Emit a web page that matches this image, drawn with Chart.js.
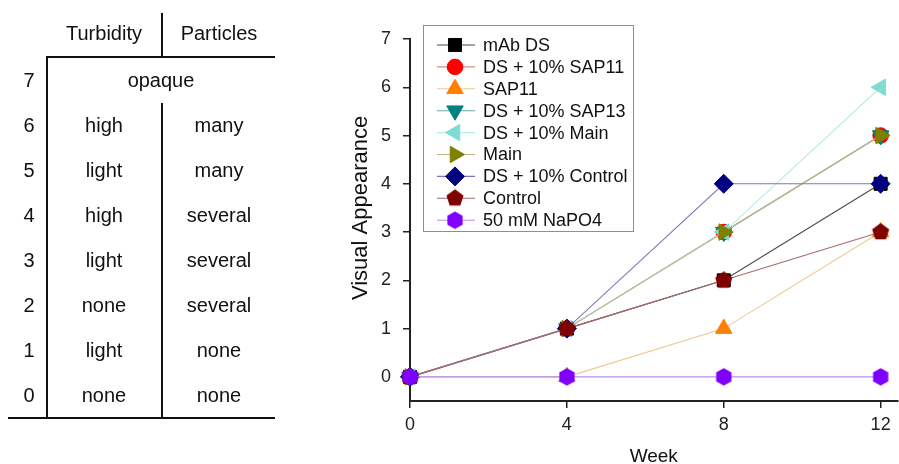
<!DOCTYPE html>
<html>
<head>
<meta charset="utf-8">
<script src="https://cdn.jsdelivr.net/npm/chart.js@4/dist/chart.umd.min.js"></script>
<style>
  html, body { margin: 0; padding: 0; background: #fff; overflow: hidden; }
  #wrap { position: relative; width: 899px; height: 464px; overflow: hidden; font-family: "Liberation Sans", Arial, sans-serif; color: #111; }
  #chart { position: absolute; left: 0; top: 0; }
  #scoreTable { position: absolute; left: 0; top: 0; width: 300px; height: 464px; }
  .cell { position: absolute; font-size: 20px; transform: translate(-50%, -50%); white-space: nowrap; line-height: 1; }
  .rule { position: absolute; background: #111; }
</style>
</head>
<body>
<div id="wrap">
  <!-- the canvas runs a little past the right edge so the x axis reaches the border -->
  <canvas id="chart" width="908" height="464"></canvas>
  <div id="scoreTable"></div>
</div>
<script>
// Scoring key (a null particle entry means the turbidity text spans both columns)
const scoreLevels = [7, 6, 5, 4, 3, 2, 1, 0];
const turbidityLevels = ['opaque', 'high', 'light', 'high', 'light', 'none', 'light', 'none'];
const particleLevels  = [null, 'many', 'many', 'several', 'several', 'several', 'none', 'none'];
const tableHeaders = ['Turbidity', 'Particles'];

// Stability study
const weeks = [0, 4, 8, 12];
const weekTicks = [0, 4, 8, 12];
const scoreTicks = [0, 1, 2, 3, 4, 5, 6, 7];
const seriesNames = ['mAb DS', 'DS + 10% SAP11', 'SAP11', 'DS + 10% SAP13', 'DS + 10% Main',
                     'Main', 'DS + 10% Control', 'Control', '50 mM NaPO4'];
const mAbDS        = [0, 1, 2, 4];
const dsSAP11      = [0, 1, 3, 5];
const sap11        = [0, 0, 1, 3];
const dsSAP13      = [0, 1, 3, 5];
const dsMain       = [0, 1, 3, 6];
const mainOnly     = [0, 1, 3, 5];
const dsControl    = [0, 1, 4, 4];
const controlOnly  = [0, 1, 2, 3];
const napo4Buffer  = [0, 0, 0, 0];

const FONT = '"Liberation Sans", Arial, sans-serif';

// ---- key table (HTML) ----
(function buildTable() {
  const host = document.getElementById('scoreTable');
  const add = (html) => host.insertAdjacentHTML('beforeend', html);
  const cell = (x, y, text) => add(`<div class="cell" style="left:${x}px;top:${y}px">${text}</div>`);
  const rule = (x, y, w, h) => add(`<div class="rule" style="left:${x}px;top:${y}px;width:${w}px;height:${h}px"></div>`);

  cell(104, 33, tableHeaders[0]);
  cell(219, 33, tableHeaders[1]);
  scoreLevels.forEach((s, i) => {
    const y = 80 + i * 45;
    cell(29, y, String(s));
    if (particleLevels[i] === null) {
      cell(161, y, turbidityLevels[i]);
    } else {
      cell(104, y, turbidityLevels[i]);
      cell(219, y, particleLevels[i]);
    }
  });
  rule(161, 13, 2, 45);   // header divider
  rule(46, 56, 229, 2);   // header underline
  rule(46, 56, 2, 363);   // score column divider
  rule(161, 103, 2, 316); // turbidity / particles divider
  rule(8, 417, 267, 2);   // bottom rule
})();

// ---- marker shapes not built into Chart.js ----
function polygonMarker(sides, r, color) {
  const size = Math.ceil(r * 2 + 2);
  const c = document.createElement('canvas');
  c.width = size; c.height = size;
  const g = c.getContext('2d');
  g.fillStyle = color;
  g.beginPath();
  for (let k = 0; k < sides; k++) {
    const a = -Math.PI / 2 + k * 2 * Math.PI / sides;
    const px = size / 2 + r * Math.cos(a), py = size / 2 + r * Math.sin(a);
    k ? g.lineTo(px, py) : g.moveTo(px, py);
  }
  g.closePath();
  g.fill();
  return c;
}

const styles = [
  { mark: '#000000', line: '#4a4a4a', shape: 'rect',     rot: 0,   r: 9.2 },
  { mark: '#ff0000', line: '#d98c8c', shape: 'circle',   rot: 0,   r: 7.8 },
  { mark: '#ff8000', line: '#f0c890', shape: 'triangle', rot: 0,   r: 9.5 },
  { mark: '#008080', line: '#6aa8a8', shape: 'triangle', rot: 180, r: 9.5 },
  { mark: '#80dcd2', line: '#b8ece6', shape: 'triangle', rot: 270, r: 9.5 },
  { mark: '#808000', line: '#c6b68c', shape: 'triangle', rot: 90,  r: 9.5 },
  { mark: '#000080', line: '#7878b8', shape: 'rectRot',  rot: 0,   r: 9.5 },
  { mark: '#800000', line: '#a86a6a', shape: polygonMarker(5, 9, '#800000'), rot: 0, r: 9 },
  { mark: '#8000ff', line: '#b48cf0', shape: polygonMarker(6, 8.8, '#8000ff'), rot: 0, r: 9 }
];
const seriesValues = [mAbDS, dsSAP11, sap11, dsSAP13, dsMain, mainOnly, dsControl, controlOnly, napo4Buffer];

const datasets = seriesNames.map((name, i) => ({
  label: name,
  data: weeks.map((w, j) => ({ x: w, y: seriesValues[i][j] })),
  borderColor: styles[i].line,
  borderWidth: 1.1,
  backgroundColor: styles[i].mark,
  pointBackgroundColor: styles[i].mark,
  pointBorderColor: styles[i].mark,
  pointBorderWidth: 1,
  pointStyle: styles[i].shape,
  pointRotation: styles[i].rot,
  pointRadius: styles[i].r,
  pointHoverRadius: styles[i].r,
  tension: 0,
  clip: false,
  order: -i
}));

// legend box with line + marker samples
const boxLegend = {
  id: 'boxLegend',
  afterDatasetsDraw(chart) {
    const ctx = chart.ctx;
    const a = chart.chartArea;
    const x0 = a.left + 13, y0 = a.top - 14, w = 210, h = 206;
    ctx.save();
    ctx.fillStyle = '#fff';
    ctx.fillRect(x0, y0, w, h);
    ctx.strokeStyle = '#8f8f8f';
    ctx.lineWidth = 1;
    ctx.strokeRect(x0 + 0.5, y0 + 0.5, w, h);
    chart.data.datasets.forEach((ds, i) => {
      const cy = y0 + 20 + i * 21.9;
      ctx.strokeStyle = ds.borderColor;
      ctx.lineWidth = 1.1;
      ctx.beginPath();
      ctx.moveTo(x0 + 14, cy);
      ctx.lineTo(x0 + 52, cy);
      ctx.stroke();
      ctx.fillStyle = ds.pointBackgroundColor;
      ctx.strokeStyle = ds.pointBorderColor;
      ctx.lineWidth = 1;
      Chart.helpers.drawPoint(ctx, {
        pointStyle: ds.pointStyle, rotation: ds.pointRotation, radius: ds.pointRadius, borderWidth: 1
      }, x0 + 32, cy);
      ctx.fillStyle = '#111';
      ctx.font = '18px ' + FONT;
      ctx.textAlign = 'left';
      ctx.textBaseline = 'middle';
      ctx.fillText(ds.label, x0 + 60, cy + 1);
    });
    ctx.restore();
  }
};

// y-axis title centred on the 0..7 score range
const yTitle = {
  id: 'yTitle',
  afterDraw(chart) {
    const ctx = chart.ctx;
    const ys = chart.scales.y;
    ctx.save();
    ctx.translate(chart.chartArea.left - 49, (ys.getPixelForValue(0) + ys.getPixelForValue(7)) / 2);
    ctx.rotate(-Math.PI / 2);
    ctx.fillStyle = '#111';
    ctx.font = '22px ' + FONT;
    ctx.textAlign = 'center';
    ctx.textBaseline = 'middle';
    ctx.fillText('Visual Appearance', 0, 0);
    ctx.restore();
  }
};

const axisColor = '#222';
new Chart(document.getElementById('chart'), {
  type: 'line',
  data: { datasets },
  options: {
    responsive: false,
    animation: false,
    events: [],
    layout: { padding: { left: 340, top: 39, right: 1, bottom: 0 } },
    plugins: { legend: { display: false }, tooltip: { enabled: false } },
    scales: {
      x: {
        type: 'linear', min: 0, max: 12.43,
        afterBuildTicks: s => { s.ticks = weekTicks.map(v => ({ value: v })); },
        afterFit: s => { s.height = 63; },
        ticks: { font: { size: 18, family: FONT }, color: axisColor, padding: 6, maxRotation: 0, autoSkip: false },
        grid: { drawOnChartArea: false, drawTicks: true, tickLength: 7, color: axisColor, lineWidth: 1.5 },
        border: { display: true, color: axisColor, width: 2 },
        title: { display: true, text: 'Week', color: '#111', font: { size: 19, family: FONT, lineHeight: 0.8 }, padding: { top: 0, bottom: 0 } }
      },
      y: {
        type: 'linear', min: -0.5, max: 7,
        afterBuildTicks: s => { s.ticks = scoreTicks.map(v => ({ value: v })); },
        afterFit: s => { s.width = 70; },
        ticks: { font: { size: 18, family: FONT }, color: axisColor, padding: 12, autoSkip: false },
        grid: { drawOnChartArea: false, drawTicks: true, tickLength: 7, color: axisColor, lineWidth: 1.5 },
        border: { display: true, color: axisColor, width: 2 }
      }
    }
  },
  plugins: [boxLegend, yTitle]
});
</script>
</body>
</html>
